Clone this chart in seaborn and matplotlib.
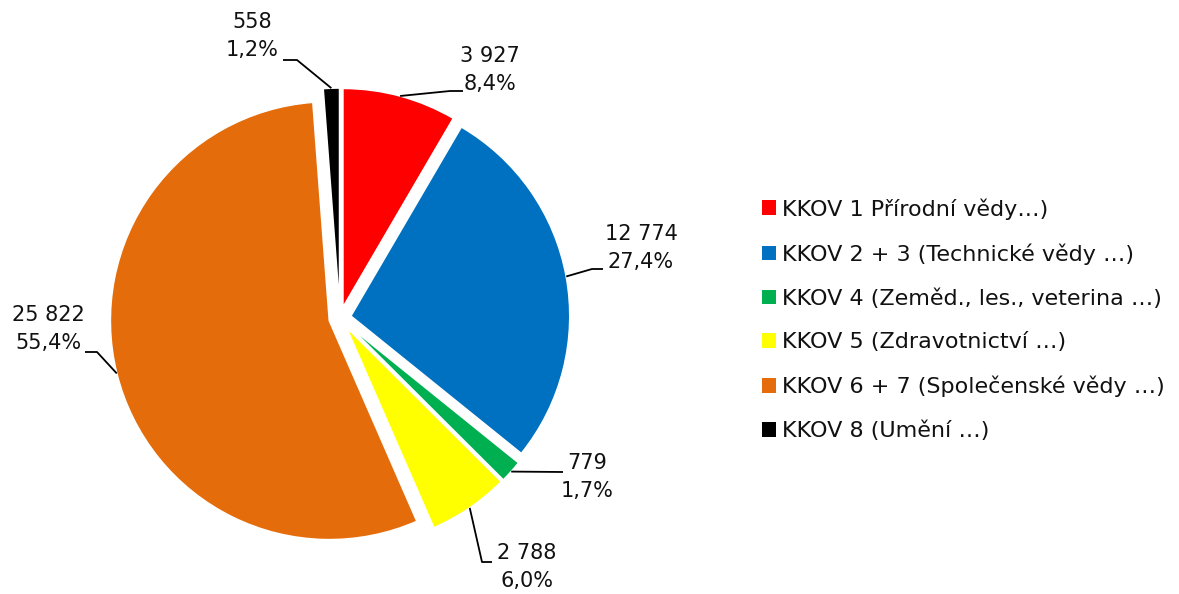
import matplotlib
matplotlib.use("Agg")
import matplotlib.pyplot as plt
import seaborn as sns
import numpy as np

# ---- data ----
categories = [
    "KKOV 1 Přírodní vědy…)",
    "KKOV 2 + 3 (Technické vědy …)",
    "KKOV 4 (Zeměd., les., veterina …)",
    "KKOV 5 (Zdravotnictví …)",
    "KKOV 6 + 7 (Společenské vědy …)",
    "KKOV 8 (Umění …)",
]
counts = [3927, 12774, 779, 2788, 25822, 558]
count_labels = ["3 927", "12 774", "779", "2 788", "25 822", "558"]
pct_labels = ["8,4%", "27,4%", "1,7%", "6,0%", "55,4%", "1,2%"]
colors = ["#FF0000", "#0070C0", "#00B050", "#FFFF00", "#E46C0A", "#000000"]

sns.set_theme(style="white")
plt.rcParams["font.family"] = ["DejaVu Sans"]

W, H = 1179, 594
fig = plt.figure(figsize=(W / 100, H / 100), dpi=100)
ax = fig.add_axes([0, 0, 1, 1])

# pie in pixel-like data coords (y up)
cx, cy, R = 340, H - 318, 219
wedges, _ = ax.pie(
    counts, colors=colors, startangle=90, counterclock=False,
    center=(cx, cy), radius=R, explode=[11] * len(counts),
    wedgeprops=dict(edgecolor="white", linewidth=1.2),
)
ax.set_xlim(0, W)
ax.set_ylim(0, H)
ax.set_aspect("auto")
ax.axis("off")

# label layout: (text center x, text center y [top-down]), leader path points after attach (top-down)
layout = [
    ((490, 70), [(450, 91), (463, 91)]),        # red
    ((641, 248), [(592, 269), (603, 269)]),     # blue
    ((587, 477), [(563, 472)]),                 # green
    ((527, 567), [(482, 562), (492, 562)]),     # yellow
    ((48, 329), [(97, 352), (85, 352)]),        # orange
    ((252, 36), [(297, 60), (283, 60)]),        # black
]

for w, cl, pl, (tpos, path) in zip(wedges, count_labels, pct_labels, layout):
    ang = np.deg2rad((w.theta1 + w.theta2) / 2)
    ax0 = w.center[0] + w.r * np.cos(ang)
    ay0 = w.center[1] + w.r * np.sin(ang)
    xs = [ax0] + [p[0] for p in path]
    ys = [ay0] + [H - p[1] for p in path]
    ax.plot(xs, ys, color="black", lw=1.3, solid_capstyle="butt")
    ax.text(tpos[0], H - tpos[1], f"{cl}\n{pl}", ha="center", va="center",
            multialignment="center", fontsize=15, color="#111111",
            linespacing=1.5)

leg = ax.legend(
    wedges, categories, loc="upper left",
    bbox_to_anchor=(762, H - 198), bbox_transform=ax.transData,
    frameon=False, fontsize=16, handlelength=0.62, handleheight=0.62,
    handletextpad=0.28, labelspacing=1.06, borderpad=0, borderaxespad=0,
)
for p in leg.get_patches():
    p.set_edgecolor("none")
for t in leg.get_texts():
    t.set_color("#111111")

fig.savefig("out.png", dpi=100, facecolor="white")
